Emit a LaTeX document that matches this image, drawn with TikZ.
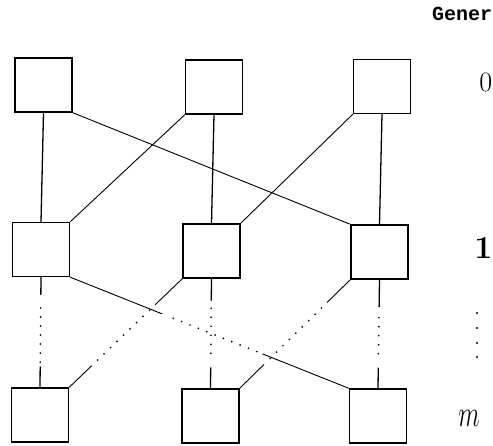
\documentclass[tikz,border=0pt]{standalone}
\usepackage{fontspec}
\newfontfamily\typefont{Liberation Mono}
\usetikzlibrary{calc}
\tikzset{
  unit/.style={draw, line width=1.4pt, minimum width=57pt, minimum height=54pt, inner sep=0pt},
  vlink/.style={line width=1.3pt},
  dlink/.style={line width=0.9pt},
  dotlink/.style={line width=1.9pt, line cap=round, dash pattern=on 0pt off 9pt},
  label/.style={inner sep=0pt}
}
\begin{document}
\begin{tikzpicture}[x=1pt, y=-1pt]
  \useasboundingbox (0,0) rectangle (493,445);
  \clip (0,0) rectangle (493,445);

  % three layers of units
  \node[unit] (t1) at (43.5,85) {};
  \node[unit] (t2) at (214,87) {};
  \node[unit] (t3) at (382,86.5) {};
  \node[unit] (m1) at (41,249.5) {};
  \node[unit] (m2) at (211.5,251) {};
  \node[unit] (m3) at (379.5,252) {};
  \node[unit] (b1) at (40,415) {};
  \node[unit] (b2) at (210.5,416) {};
  \node[unit] (b3) at (378,416) {};

  % top layer to layer 1
  \draw[vlink] (t1.south) -- (m1.north);
  \draw[vlink] (t2.south) -- (m2.north);
  \draw[vlink] (t3.south) -- (m3.north);
  \draw[dlink] (t1.south east) -- (m3.north west);
  \draw[dlink] (t2.south west) -- (m1.north east);
  \draw[dlink] (t3.south west) -- (m2.north east);

  % layer 1 to layer m, broken by dotted middle parts
  \draw[vlink] (m1.south) -- ($(m1.south)!0.16!(b1.north)$);
  \draw[dotlink] ($(m1.south)!0.28!(b1.north)$) -- ($(m1.south)!0.78!(b1.north)$);
  \draw[vlink] ($(m1.south)!0.81!(b1.north)$) -- (b1.north);

  \draw[vlink] (m2.south) -- ($(m2.south)!0.2!(b2.north)$);
  \draw[dotlink] ($(m2.south)!0.27!(b2.north)$) -- ($(m2.south)!0.72!(b2.north)$);
  \draw[vlink] ($(m2.south)!0.81!(b2.north)$) -- (b2.north);

  \draw[vlink] (m3.south) -- ($(m3.south)!0.25!(b3.north)$);
  \draw[dotlink] ($(m3.south)!0.35!(b3.north)$) -- ($(m3.south)!0.75!(b3.north)$);
  \draw[vlink] ($(m3.south)!0.81!(b3.north)$) -- (b3.north);

  \draw[dlink] (m1.south east) -- ($(m1.south east)!0.33!(b3.north west)$);
  \draw[dotlink] ($(m1.south east)!0.37!(b3.north west)$) -- ($(m1.south east)!0.68!(b3.north west)$);
  \draw[dlink] ($(m1.south east)!0.69!(b3.north west)$) -- (b3.north west);

  \draw[dlink] (m2.south west) -- ($(m2.south west)!0.24!(b1.north east)$);
  \draw[dotlink] ($(m2.south west)!0.29!(b1.north east)$) -- ($(m2.south west)!0.75!(b1.north east)$);
  \draw[dlink] ($(m2.south west)!0.8!(b1.north east)$) -- (b1.north east);

  \draw[dlink] (m3.south west) -- ($(m3.south west)!0.21!(b2.north east)$);
  \draw[dotlink] ($(m3.south west)!0.26!(b2.north east)$) -- ($(m3.south west)!0.74!(b2.north east)$);
  \draw[dlink] ($(m3.south west)!0.78!(b2.north east)$) -- (b2.north east);

  % heading and layer labels
  \node[label, anchor=base west, font=\typefont\bfseries\fontsize{20}{20}\selectfont] (head) at (432,20) {Gener};
  \node[label, anchor=east, font=\fontsize{28}{28}\selectfont] (l0) at (492.5,82) {0};
  \node[label, anchor=center, font=\bfseries\fontsize{32}{32}\selectfont] (l1) at (483.5,248) {1};
  \foreach \yy in {313,328,343,357} \fill (477,\yy) circle (1.2pt);
  \node[label] (lm) at (469,418) {\scalebox{1}[1.5]{\fontsize{30}{30}\selectfont$m$}};
\end{tikzpicture}
\end{document}
